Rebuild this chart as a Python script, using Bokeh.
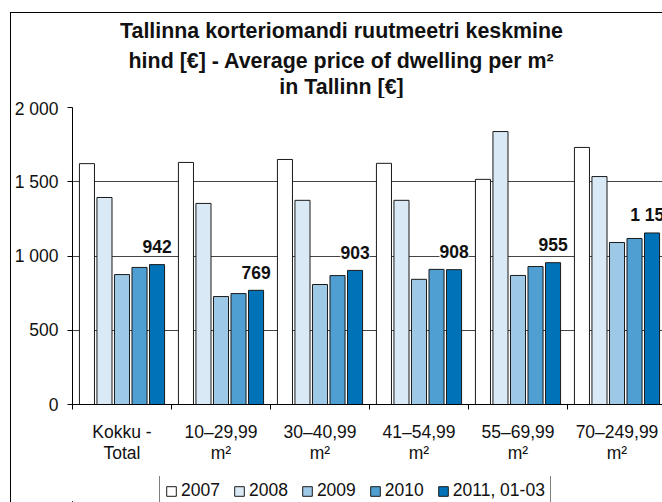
from bokeh.plotting import figure
from bokeh.models import (Range1d, FixedTicker, LabelSet, ColumnDataSource,
                          Legend, LegendItem)
from bokeh.layouts import column
from bokeh.core.properties import value
from bokeh.embed import file_html
from bokeh.resources import INLINE

# ---- data ----
categories = ["Kokku -\nTotal", "10–29,99\nm²", "30–40,99\nm²", "41–54,99\nm²",
              "55–69,99\nm²", "70–249,99\nm²"]
series_names = ["2007", "2008", "2009", "2010", "2011, 01-03"]
v2007 = [1622, 1630, 1650, 1624, 1516, 1731]
v2008 = [1394, 1354, 1375, 1375, 1838, 1535]
v2009 = [875, 727, 808, 843, 869, 1091]
v2010 = [923, 747, 868, 910, 929, 1118]
v2011 = [942, 769, 903, 908, 955, 1155]
y_ticks = [0, 500, 1000, 1500, 2000]
y_tick_labels = ["0", "500", "1 000", "1 500", "2 000"]
colors = ["#ffffff", "#d9e9f5", "#9dc9e6", "#4f9fd2", "#0073b8"]
title_lines = ["Tallinna korteriomandi ruutmeetri keskmine",
               "hind [€] - Average price of dwelling per m²",
               "in Tallinn [€]"]

series = [v2007, v2008, v2009, v2010, v2011]
FONT = "Liberation Sans"
TXT = "#111111"


def blank_fig(h):
    f = figure(width=651, height=h, output_backend="svg", toolbar_location=None,
               x_range=Range1d(0, 590), y_range=Range1d(0, h),
               x_axis_type=None, y_axis_type=None,
               min_border_left=0, min_border_right=0,
               min_border_top=0, min_border_bottom=0,
               background_fill_color="white", border_fill_color="white")
    f.outline_line_color = None
    f.xgrid.visible = False
    f.ygrid.visible = False
    return f


# ---- title (own strip above the chart) ----
tf = blank_fig(85)
tf.text(x=[269, 269, 269], y=[67.8, 37.2, 11.5], text=title_lines,
        text_align="center", text_baseline="alphabetic",
        text_font=value(FONT), text_font_style="bold",
        text_font_size=value("21.4px"), text_color=TXT)

# ---- main chart ----
p = figure(width=651, height=378, output_backend="svg", toolbar_location=None,
           x_range=Range1d(0, 590 / 99), y_range=Range1d(0, 2000),
           min_border_left=61, min_border_right=0, min_border_top=9, min_border_bottom=72,
           background_fill_color="white", border_fill_color="white")
p.outline_line_color = None

offsets = [0.146, 0.323, 0.5, 0.677, 0.854]
bar_w = 0.152
for name, vals, col, off in zip(series_names, series, colors, offsets):
    src = ColumnDataSource(dict(x=[i + off for i in range(len(categories))], top=vals))
    p.vbar(x="x", top="top", width=bar_w, bottom=0, source=src,
           fill_color=col, line_color="#1a1a1a", line_width=1)

# data labels for latest series
lab_src = ColumnDataSource(dict(
    x=[i + offsets[4] for i in range(len(categories))],
    y=v2011,
    t=[f"{v:,}".replace(",", " ") for v in v2011]))
p.add_layout(LabelSet(x="x", y="y", text="t", source=lab_src, y_offset=18,
                      text_align="center", text_baseline="middle",
                      text_font=value(FONT), text_font_style="bold",
                      text_font_size="17.5px", text_color=TXT,
                      background_fill_color="white"))

# axes
p.xaxis.ticker = FixedTicker(ticks=[i + 0.5 for i in range(len(categories))],
                             minor_ticks=list(range(len(categories))))
p.xaxis.major_label_overrides = {i + 0.5: c for i, c in enumerate(categories)}
p.xaxis.major_tick_line_color = None
p.xaxis.major_tick_out = 0
p.xaxis.major_tick_in = 0
p.xaxis.minor_tick_line_color = "black"
p.xaxis.minor_tick_out = 5
p.xaxis.minor_tick_in = 0
p.xaxis.major_label_standoff = 12
p.xaxis.major_label_text_line_height = 1.05
p.xaxis.axis_line_color = "black"

p.yaxis.ticker = FixedTicker(ticks=y_ticks)
p.yaxis.major_label_overrides = {t: l for t, l in zip(y_ticks, y_tick_labels)}
p.yaxis.major_tick_out = 5
p.yaxis.major_tick_in = 0
p.yaxis.minor_tick_line_color = None
p.yaxis.major_label_standoff = 9
p.yaxis.axis_line_color = "black"
p.yaxis.major_tick_line_color = "black"

for ax in (p.xaxis, p.yaxis):
    ax.major_label_text_font = FONT
    ax.major_label_text_font_size = "17.5px"
    ax.major_label_text_color = TXT

p.xgrid.grid_line_color = None
p.ygrid.ticker = FixedTicker(ticks=y_ticks)
p.ygrid.grid_line_color = "#444444"
p.ygrid.grid_line_width = 1

# ---- legend strip ----
lf = blank_fig(26)
items = []
for name, col in zip(series_names, colors):
    r = lf.vbar(x=[-50], top=[1], width=1, fill_color=col,
                line_color="#1a1a1a", line_width=1)
    items.append(LegendItem(label=name, renderers=[r]))
legend = Legend(items=items, orientation="horizontal", location=(87, -5),
                label_text_font=FONT, label_text_font_size="17.5px",
                label_text_color=TXT,
                glyph_width=12, glyph_height=12, label_standoff=4, spacing=13,
                padding=5, margin=0, border_line_color="black", border_line_width=1,
                background_fill_color="white", background_fill_alpha=1)
lf.add_layout(legend, "center")

layout = column(tf, p, lf, spacing=0, margin=(12, 0, 0, 10),
                styles={"border-left": "1px solid black", "border-top": "1px solid black"})

open("out.html", "w").write(file_html(layout, INLINE))
